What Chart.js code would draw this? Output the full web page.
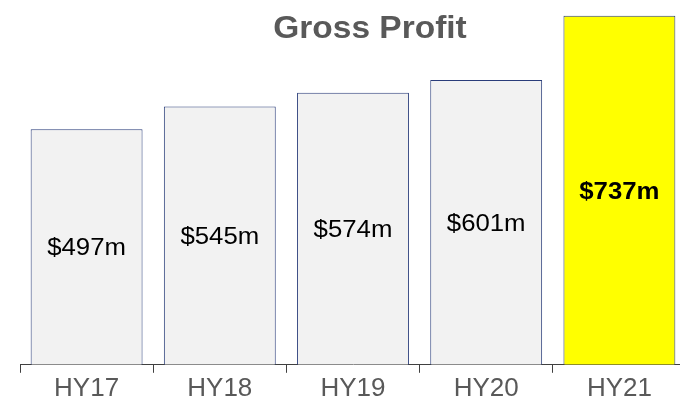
<!DOCTYPE html>
<html>
<head>
<meta charset="utf-8">
<script src="https://cdn.jsdelivr.net/npm/chart.js@4"></script>
<style>
  html, body { margin: 0; padding: 0; background: #fff; overflow: hidden; }
  #wrap { width: 686px; height: 404px; }
</style>
</head>
<body>
<div id="wrap"><canvas id="chart" width="686" height="404"></canvas></div>
<script>
// data
const periods = ['HY17', 'HY18', 'HY19', 'HY20', 'HY21'];
const grossProfit = [497, 545, 574, 601, 737];
const valueLabels = ['$497m', '$545m', '$574m', '$601m', '$737m'];
const highlight = [false, false, false, false, true];

const fills = highlight.map(h => h ? '#ffff00' : '#f2f2f2');
const FONT = '"Liberation Sans", Arial, sans-serif';

// text in the original looks a little wider than normal, so stretch it
function wideText(ctx, text, x, y, stretch) {
  ctx.save();
  ctx.translate(x, y);
  ctx.scale(stretch, 1);
  ctx.fillText(text, 0, 0);
  ctx.restore();
}

// draws the value in the middle of each bar
const barLabels = {
  id: 'barLabels',
  afterDatasetsDraw(chart) {
    const ctx = chart.ctx;
    const bars = chart.getDatasetMeta(0).data;
    ctx.save();
    ctx.textAlign = 'center';
    ctx.textBaseline = 'alphabetic';
    ctx.fillStyle = '#000';
    bars.forEach((bar, i) => {
      ctx.font = (highlight[i] ? 'bold ' : '') + '23px ' + FONT;
      wideText(ctx, valueLabels[i], bar.x, (bar.y + bar.base) / 2 + 8.3, 1.12);
    });
    ctx.restore();
  }
};

// title sits off centre in the original, so draw it by hand
const titleText = {
  id: 'titleText',
  afterDraw(chart) {
    const ctx = chart.ctx;
    ctx.save();
    ctx.font = 'bold 31px ' + FONT;
    ctx.fillStyle = '#595959';
    ctx.textAlign = 'center';
    ctx.textBaseline = 'alphabetic';
    wideText(ctx, 'Gross Profit', 370, 38, 1.08);
    ctx.restore();
  }
};

new Chart(document.getElementById('chart').getContext('2d'), {
  type: 'bar',
  data: {
    labels: periods,
    datasets: [{
      data: grossProfit,
      backgroundColor: fills,
      borderColor: '#2a3d7a',
      borderWidth: 1,
      borderSkipped: 'bottom',
      barPercentage: 0.84,
      categoryPercentage: 1
    }]
  },
  options: {
    responsive: false,
    animation: false,
    layout: { padding: { left: 20, right: 0, top: 0, bottom: 0 } },
    plugins: {
      legend: { display: false },
      title: { display: false },
      tooltip: { enabled: false }
    },
    scales: {
      x: {
        grid: {
          offset: true,
          drawOnChartArea: false,
          drawTicks: true,
          tickLength: 8,
          color: '#404040'
        },
        border: { display: true, color: '#404040', width: 1 },
        ticks: {
          padding: 0,
          color: '#595959',
          font: { family: FONT, size: 26 }
        }
      },
      y: {
        display: false,
        min: 0,
        max: 770
      }
    }
  },
  plugins: [barLabels, titleText]
});
</script>
</body>
</html>
